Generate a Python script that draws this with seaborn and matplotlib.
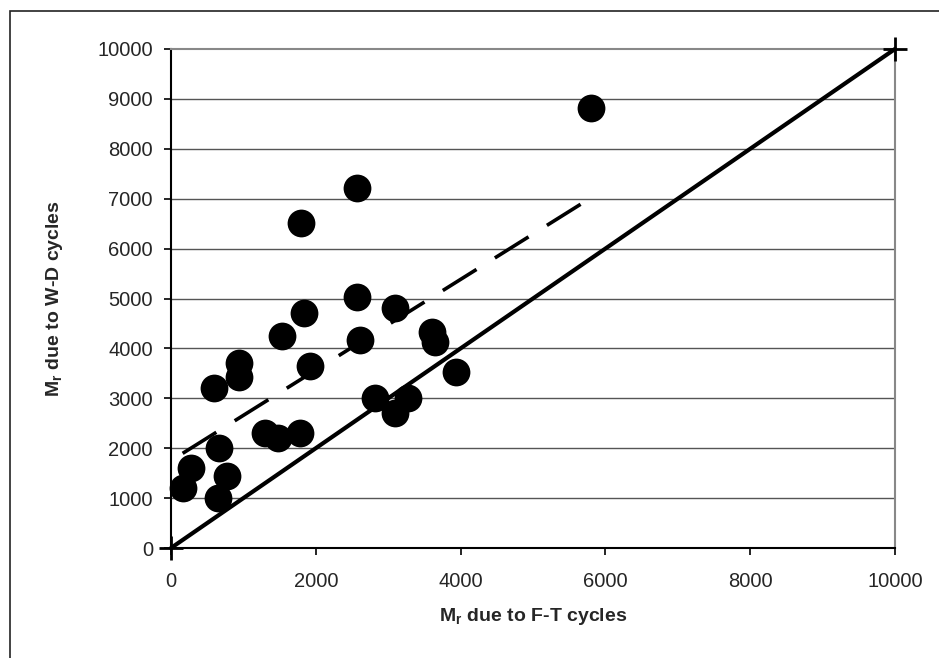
import matplotlib
matplotlib.use("Agg")
import matplotlib.pyplot as plt
import seaborn as sns
import numpy as np
import pandas as pd
from matplotlib.patches import Rectangle

# Data
ft_cycles = [161, 276, 598, 654, 667, 769, 944, 944, 1298, 1482, 1529, 1782, 1796,
             1841, 1920, 2565, 2565, 2610, 2818, 3094, 3094, 3278, 3600, 3646, 3936, 5800]
wd_cycles = [1196, 1597, 3200, 996, 1998, 1443, 3714, 3421, 2311, 2198, 4249, 2311, 6519,
             4716, 3647, 7210, 5036, 4168, 3000, 4803, 2699, 3000, 4335, 4134, 3527, 8820]
equality_x = [0, 10000]
equality_y = [0, 10000]
x_ticks = [0, 2000, 4000, 6000, 8000, 10000]
y_ticks = [0, 1000, 2000, 3000, 4000, 5000, 6000, 7000, 8000, 9000, 10000]

df = pd.DataFrame({"ft": ft_cycles, "wd": wd_cycles})
eq = pd.DataFrame({"x": equality_x, "y": equality_y})

sns.set_theme(style="white")
plt.rcParams['font.family'] = ['Liberation Sans', 'DejaVu Sans']

fig = plt.figure(figsize=(9.39, 6.58), dpi=100)
W, H = 939, 658
ax = fig.add_axes([171 / W, 1 - 548 / H, (895 - 171) / W, (548 - 49) / H])

# outer frame (only left and top visible)
fig.patches.append(Rectangle((10 / W, -0.1), 1.2, 1 - 11 / H + 0.1,
                             transform=fig.transFigure, fill=False,
                             edgecolor='#222222', linewidth=1.2, zorder=0))

ax.set_xlim(0, 10000)
ax.set_ylim(0, 10000)

for yv in y_ticks[1:-1]:
    ax.axhline(yv, color='#555555', linewidth=1.0, zorder=1)

# regression trend line (dashed)
sns.regplot(data=df, x="ft", y="wd", scatter=False, ci=None, truncate=True, ax=ax,
            line_kws=dict(color='black', linewidth=2.6, dashes=(11, 6),
                          dash_capstyle='butt', zorder=3))

# equality line
sns.lineplot(data=eq, x="x", y="y", ax=ax, color='black', linewidth=3.0,
             marker='+', markersize=17, markeredgewidth=2, markeredgecolor='black',
             zorder=4, clip_on=False)

sns.scatterplot(data=df, x="ft", y="wd", ax=ax, color='black', s=400,
                edgecolor='black', linewidth=0, zorder=5, clip_on=False)

ax.set_xticks(x_ticks)
ax.set_yticks(y_ticks)
ax.set_xticklabels([str(v) for v in x_ticks], fontsize=14.5)
ax.set_yticklabels([str(v) for v in y_ticks], fontsize=14.5)
ax.tick_params(axis='both', direction='out', length=5, width=1.2, color='black',
               bottom=True, left=True)
ax.tick_params(axis='y', pad=8)
ax.tick_params(axis='x', pad=12)

for side in ['left', 'bottom']:
    ax.spines[side].set_color('black')
    ax.spines[side].set_linewidth(1.5)
for side in ['right', 'top']:
    ax.spines[side].set_color('#888888')
    ax.spines[side].set_linewidth(1.5)

ax.set_xlabel(r"M$_\mathregular{r}$ due to F-T cycles", fontsize=14, fontweight='bold')
ax.set_ylabel(r"M$_\mathregular{r}$ due to W-D cycles", fontsize=14, fontweight='bold')
ax.xaxis.set_label_coords(0.5, -0.116)
ax.yaxis.set_label_coords(-0.147, 0.5)

fig.savefig("out.png", dpi=100)
